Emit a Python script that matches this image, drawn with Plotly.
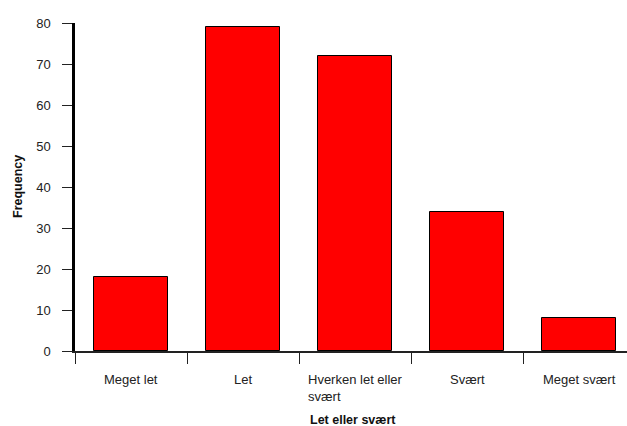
import plotly.graph_objects as go

categories = ["Meget let", "Let", "Hverken let eller<br>svært", "Svært", "Meget svært"]
frequencies = [18, 79, 72, 34, 8]
y_ticks = [0, 10, 20, 30, 40, 50, 60, 70, 80]
x_title = "Let eller svært"
y_title = "Frequency"

W, H = 627, 426
ml, mt, mb = 75, 23, 75
plot_w = W - ml
cat_w = 112.0
x_hi = -0.5 + plot_w / cat_w

fig = go.Figure()
fig.add_trace(go.Bar(
    x=list(range(len(categories))),
    y=frequencies,
    width=0.66,
    marker=dict(color="#ff0000", line=dict(color="#000000", width=1)),
    showlegend=False,
    hoverinfo="skip",
))

font_family = "Liberation Sans, Arial, sans-serif"

for i, c in enumerate(categories):
    fig.add_annotation(
        x=i, y=0, xref="x", yref="paper",
        text=c, showarrow=False,
        xanchor="center", yanchor="top", align="left",
        yshift=-19,
        font=dict(family=font_family, size=13, color="#222222"),
    )

fig.add_annotation(
    x=(353 - ml) / plot_w, y=0, xref="paper", yref="paper",
    text="<b>" + x_title + "</b>", showarrow=False,
    xanchor="center", yanchor="middle", yshift=-(420 - 351),
    font=dict(family=font_family, size=12.5, color="#111111"),
)
fig.add_annotation(
    x=0, y=0.5, xref="paper", yref="paper",
    text="<b>" + y_title + "</b>", showarrow=False, textangle=-90,
    xanchor="center", yanchor="middle", xshift=-(ml - 18),
    font=dict(family=font_family, size=12.5, color="#111111"),
)

fig.update_xaxes(
    range=[-0.5, x_hi],
    tickmode="array",
    tickvals=[i - 0.5 for i in range(len(categories) + 1)],
    ticktext=["" for _ in range(len(categories) + 1)],
    ticks="outside", ticklen=11, tickcolor="#222222", tickwidth=1,
    showline=True, linecolor="#222222", linewidth=1.5,
    showgrid=False, zeroline=False, fixedrange=True,
)
fig.update_yaxes(
    range=[0, 80],
    tickmode="array", tickvals=y_ticks,
    ticks="outside", ticklen=10, tickcolor="#222222", tickwidth=1,
    ticklabelstandoff=9,
    tickfont=dict(family=font_family, size=13, color="#222222"),
    showline=True, linecolor="#000000", linewidth=2.5,
    showgrid=False, zeroline=False, fixedrange=True,
)
fig.update_layout(
    width=W, height=H,
    margin=dict(l=ml, r=0, t=mt, b=mb, pad=0),
    plot_bgcolor="white", paper_bgcolor="white",
    bargap=0,
)
fig.write_html(
    "out.html",
    config={"displayModeBar": False},
    post_script="document.body.style.margin='0';document.body.style.overflow='hidden';",
)
